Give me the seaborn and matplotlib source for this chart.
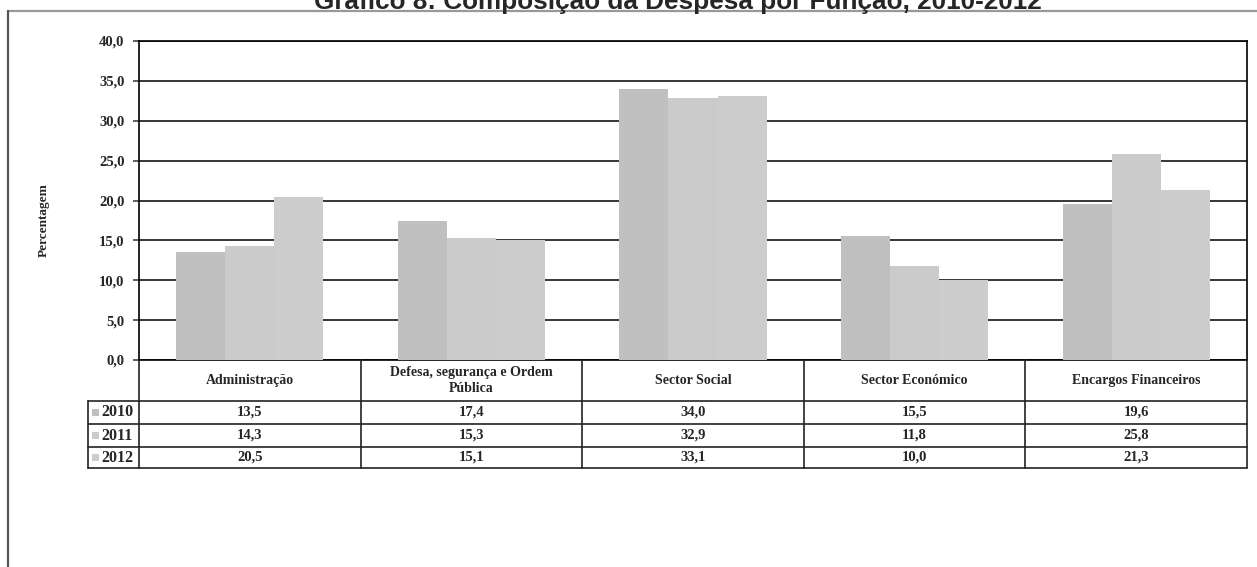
import numpy as np
import pandas as pd
import matplotlib
matplotlib.use('Agg')
import matplotlib.pyplot as plt
from matplotlib.lines import Line2D
import seaborn as sns

# ── Data ───────────────────────────────────────────────────────────────────────
categories = ["Administração", "Defesa, segurança e Ordem\nPública",
              "Sector Social", "Sector Económico", "Encargos Financeiros"]
years = ["2010", "2011", "2012"]
v2010 = [13.5, 17.4, 34.0, 15.5, 19.6]
v2011 = [14.3, 15.3, 32.9, 11.8, 25.8]
v2012 = [20.5, 15.1, 33.1, 10.0, 21.3]
yticks = [0, 5, 10, 15, 20, 25, 30, 35, 40]
title = "Gráfico 8: Composição da Despesa por Função, 2010-2012"
ylabel = "Percentagem"

colors = {"2010": "#c0c0c0", "2011": "#cbcbcb", "2012": "#cdcdcd"}

df = pd.DataFrame({
    "cat": categories * 3,
    "year": [y for y in years for _ in categories],
    "val": v2010 + v2011 + v2012,
})

def fmt(v):
    return f"{v:.1f}".replace(".", ",")

# ── Figure ─────────────────────────────────────────────────────────────────────
sns.set_style("white")
W, H = 1257, 567
fig = plt.figure(figsize=(W / 100, H / 100), dpi=100)
fig.patch.set_facecolor("white")

def fx(px):
    return px / W

def fy(py):
    return 1 - py / H

L, R, T, B = 139, 1247, 41, 360
ax = fig.add_axes([fx(L), fy(B), fx(R - L), (B - T) / H])

sns.barplot(data=df, x="cat", y="val", hue="year", palette=colors,
            width=0.665, saturation=1, linewidth=0, legend=False, ax=ax,
            zorder=3)

ax.set_ylim(0, 40)
ax.set_xlim(-0.5, len(categories) - 0.5)
ax.set_yticks(yticks)
ax.set_yticklabels([fmt(t) for t in yticks], fontfamily="Liberation Serif",
                   fontweight="bold", fontsize=10.5)
ax.set_xticks([])
ax.set_xlabel("")
ax.set_ylabel("")
ax.set_axisbelow(True)
ax.yaxis.grid(True, color="black", lw=1.1)
ax.tick_params(axis="y", length=4.5, width=1.1, color="#333333", pad=6,
               left=True, direction="out")
for s in ax.spines.values():
    s.set_color("black")
    s.set_linewidth(1.2)

# y label
fig.text(fx(44), fy(220), ylabel, rotation=90, ha="center", va="center",
         fontfamily="Liberation Serif", fontweight="bold", fontsize=9.5)

# title (clipped at top like the source)
fig.text(fx(678), fy(9), title, ha="center", va="baseline",
         fontfamily="Liberation Sans", fontweight="bold", fontsize=18.8)

# outer frame
fig.add_artist(Line2D([fx(8), fx(W)], [fy(11), fy(11)], color="#999999", lw=1.6))
fig.add_artist(Line2D([fx(8), fx(8)], [fy(11), fy(H)], color="#555555", lw=1.6))

# ── Data table under the axis ──────────────────────────────────────────────────
row_tops = [360, 401, 424, 447, 468]
leg_left = 88
lc, lw = "#222222", 1.2

# column edges from data coordinates
edges = []
for i in range(len(categories) + 1):
    xd = ax.transData.transform((i - 0.5, 0))[0]
    edges.append(fig.transFigure.inverted().transform((xd, 0))[0])

for yb in row_tops[1:]:
    fig.add_artist(Line2D([fx(leg_left), edges[-1]], [fy(yb), fy(yb)],
                          color=lc, lw=lw))
for e in edges:
    fig.add_artist(Line2D([e, e], [fy(row_tops[0]), fy(row_tops[-1])],
                          color=lc, lw=lw))
fig.add_artist(Line2D([fx(leg_left), fx(leg_left)],
                      [fy(row_tops[1]), fy(row_tops[-1])], color=lc, lw=lw))

hdr = dict(fontfamily="Liberation Serif", fontweight="bold", fontsize=10)
txt = dict(fontfamily="Liberation Serif", fontweight="bold", fontsize=10.5)
for i, cat in enumerate(categories):
    cx = (edges[i] + edges[i + 1]) / 2
    fig.text(cx, fy((row_tops[0] + row_tops[1]) / 2), cat, ha="center",
             va="center", linespacing=1.3, **hdr)

series = [v2010, v2011, v2012]
for r, (yr, vals) in enumerate(zip(years, series)):
    ymid = fy((row_tops[r + 1] + row_tops[r + 2]) / 2)
    for i, v in enumerate(vals):
        cx = (edges[i] + edges[i + 1]) / 2
        fig.text(cx, ymid, fmt(v), ha="center", va="center", **txt)
    fig.patches.append(plt.Rectangle((fx(92), ymid - 3.5 / H), 7 / W, 7 / H,
                                     transform=fig.transFigure,
                                     facecolor=colors[yr], edgecolor="none"))
    fig.text(fx(101), ymid, yr, ha="left", va="center",
             fontfamily="Liberation Serif", fontweight="bold", fontsize=11.5)

plt.savefig("out.png", dpi=100, facecolor="white")
plt.close()
